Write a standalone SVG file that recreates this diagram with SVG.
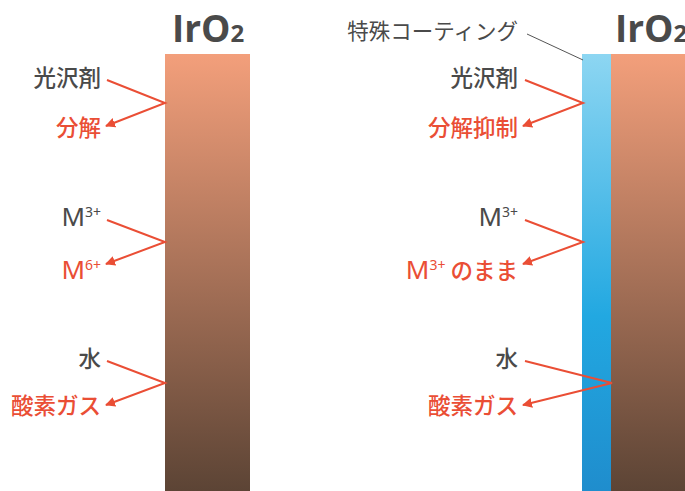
<svg xmlns="http://www.w3.org/2000/svg" width="685" height="491" viewBox="0 0 685 491">
<defs>
<linearGradient id="brown" x1="0" y1="0" x2="0" y2="1">
<stop offset="0" stop-color="#F39F7B"/>
<stop offset="1" stop-color="#5C4435"/>
</linearGradient>
<linearGradient id="blue" x1="0" y1="0" x2="0" y2="1">
<stop offset="0" stop-color="#8DD6F2"/>
<stop offset="0.6" stop-color="#22A8E1"/>
<stop offset="1" stop-color="#1F8DCD"/>
</linearGradient>
<marker id="ah" viewBox="0 0 10 10" refX="9" refY="5" markerWidth="10" markerHeight="10" markerUnits="userSpaceOnUse" orient="auto">
<path d="M0,0 L10,5 L0,10 z" fill="#EA4E35"/>
</marker>
<style>
.t{font-family:"Noto Sans CJK JP","Noto Sans",sans-serif;font-size:22.5px;font-weight:500;fill:#4A4A4A;text-anchor:end}
.r{fill:#EA4E35}
.m{font-family:"Noto Sans","Noto Sans CJK JP",sans-serif;font-size:26px;font-weight:400}
.s{font-size:14px}
.j{font-family:"Noto Sans CJK JP",sans-serif;font-size:22.5px;font-weight:500}
.h{font-family:"Open Sans","Noto Sans",sans-serif;font-weight:700;font-size:37px;fill:#4A4A4A}
.hs{font-size:24px}
.ln{fill:none;stroke:#EA4E35;stroke-width:2}
</style>
</defs>
<g id="left-iro2">
<rect x="165" y="54" width="85" height="437" fill="url(#brown)"/>
<text class="h" x="172" y="42">IrO<tspan class="hs">2</tspan></text>
</g>
<g id="right-iro2">
<rect x="611" y="54" width="74" height="437" fill="url(#brown)"/>
<text class="h" x="615" y="42">IrO<tspan class="hs">2</tspan></text>
</g>
<g id="coating">
<rect x="582" y="54" width="29" height="437" fill="url(#blue)"/>
<text class="t" x="518" y="39" style="font-size:21.5px;font-weight:400">特殊コーティング</text>
</g>
<g id="left-labels">
<text class="t" x="101" y="86">光沢剤</text>
<text class="t r" x="101" y="136">分解</text>
<text class="t m" x="101" y="226">M<tspan class="s" dy="-9">3+</tspan></text>
<text class="t m r" x="101" y="279">M<tspan class="s" dy="-9">6+</tspan></text>
<text class="t" x="101" y="367">水</text>
<text class="t r" x="101" y="414">酸素ガス</text>
</g>
<g id="right-labels">
<text class="t" x="518" y="86">光沢剤</text>
<text class="t r" x="518" y="136">分解抑制</text>
<text class="t m" x="518" y="226">M<tspan class="s" dy="-9">3+</tspan></text>
<text class="t m r" x="518" y="279">M<tspan class="s" dy="-9">3+</tspan><tspan class="j" dy="9"> のまま</tspan></text>
<text class="t" x="518" y="367">水</text>
<text class="t r" x="518" y="414">酸素ガス</text>
</g>
<g id="connectors">
<path d="M527,34 L583,60" fill="none" stroke="#555" stroke-width="1"/>
<path class="ln" d="M107,80 L165,103 L106,126" marker-end="url(#ah)"/>
<path class="ln" d="M107,220 L165,242 L106,264" marker-end="url(#ah)"/>
<path class="ln" d="M107,361 L165,383 L106,405" marker-end="url(#ah)"/>
<path class="ln" d="M525,80 L583,103 L523,126" marker-end="url(#ah)"/>
<path class="ln" d="M525,220 L583,242 L523,264" marker-end="url(#ah)"/>
<path class="ln" d="M525,361 L612,383 L523,405" marker-end="url(#ah)"/>
</g>
</svg>
